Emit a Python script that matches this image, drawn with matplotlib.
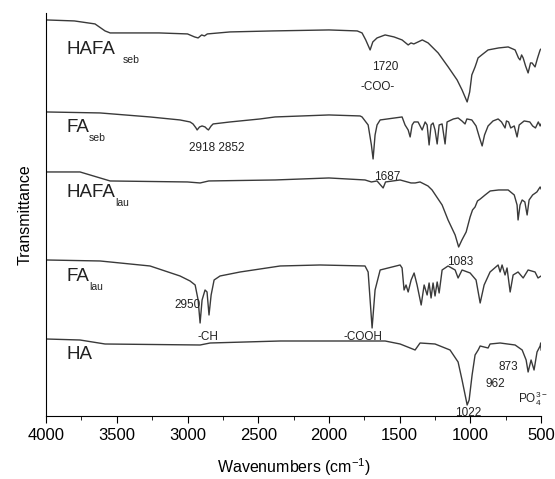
import numpy as np
import matplotlib.pyplot as plt
from matplotlib.ticker import MultipleLocator

plt.rcParams['font.family'] = ['Liberation Sans', 'DejaVu Sans']
plt.rcParams['mathtext.fontset'] = 'custom'
plt.rcParams['mathtext.rm'] = 'Liberation Sans'
plt.rcParams['mathtext.it'] = 'Liberation Sans'

# spectra: wavenumber (cm-1) and stacked transmittance (offset, a.u.)
hafa_seb_w = [4000, 3800, 3654, 3583, 3547, 3200, 3000, 2950, 2925, 2900, 2880, 2860, 2700, 2400, 2000, 1800,
              1766, 1740, 1709, 1690, 1660, 1603, 1540, 1483, 1440, 1420, 1400, 1370, 1340, 1299, 1228, 1157,
              1094, 1059, 1023, 1005, 990, 967, 955, 946, 920, 875, 800, 733, 684, 660, 649, 638, 627, 610,
              592, 575, 564, 543, 525, 507, 500]
hafa_seb_t = [396, 395, 392, 385, 383, 383, 382, 379, 378, 381, 380, 382, 384, 385, 386, 385,
              383, 376, 366, 374, 378, 381, 379, 376, 371, 373, 372, 374, 376, 373, 363, 349,
              336, 326, 314, 324, 341, 349, 354, 358, 361, 366, 368, 369, 366, 358, 356, 361, 358, 350,
              343, 353, 353, 349, 358, 366, 367]

fa_seb_w = [4000, 3618, 3265, 3053, 2982, 2961, 2940, 2932, 2915, 2897, 2876, 2862, 2852, 2833, 2819, 2699,
            2487, 2381, 2000, 1780, 1766, 1723, 1700, 1688, 1674, 1660, 1638, 1483, 1462, 1440, 1426, 1412,
            1398, 1370, 1341, 1320, 1306, 1292, 1278, 1264, 1250, 1235, 1221, 1200, 1179, 1165, 1120, 1087,
            1060, 1038, 1025, 990, 960, 935, 917, 900, 875, 840, 804, 780, 755, 745, 730, 715, 690, 670,
            655, 620, 580, 560, 540, 520, 507, 500]
fa_seb_t = [304, 303, 299, 296, 294, 292, 288, 286, 289, 290, 289, 287, 286, 290, 292, 294,
            297, 299, 301, 300, 299, 291, 271, 257, 281, 291, 296, 299, 291, 286, 279, 291,
            294, 294, 286, 294, 291, 271, 291, 293, 286, 272, 291, 292, 272, 294, 297, 298,
            295, 292, 297, 296, 290, 278, 270, 281, 290, 295, 297, 294, 288, 295, 294, 288, 290, 279,
            291, 295, 294, 290, 288, 294, 290, 292]

hafa_lau_w = [4000, 3760, 3618, 3547, 3000, 2911, 2850, 2381, 2000, 1745, 1700, 1660, 1617, 1600, 1497, 1420,
              1391, 1356, 1300, 1271, 1200, 1158, 1108, 1083, 1060, 1030, 1002, 985, 967, 950, 930, 896,
              860, 800, 733, 690, 670, 663, 649, 634, 615, 599, 585, 560, 530, 507, 500]
hafa_lau_t = [244, 244, 238, 235, 234, 233, 235, 236, 238, 236, 234, 235, 228, 234, 236, 233,
              233, 234, 230, 226, 211, 196, 181, 169, 176, 184, 199, 206, 209, 215, 217, 221,
              225, 226, 226, 221, 211, 196, 211, 216, 214, 201, 216, 221, 224, 229, 227]

fa_lau_w = [4000, 3618, 3265, 3053, 2982, 2946, 2925, 2911, 2897, 2876, 2862, 2848, 2833, 2812, 2770, 2628,
            2345, 2063, 1745, 1723, 1695, 1674, 1638, 1497, 1483, 1469, 1455, 1440, 1419, 1398, 1377, 1348,
            1327, 1306, 1292, 1278, 1264, 1250, 1235, 1221, 1200, 1158, 1108, 1087, 1059, 1002, 960, 931,
            903, 861, 804, 790, 776, 755, 741, 719, 698, 663, 627, 592, 543, 522, 500]
fa_lau_t = [156, 155, 150, 140, 135, 131, 116, 93, 116, 126, 124, 101, 121, 136, 140, 144,
            150, 151, 150, 144, 88, 126, 146, 151, 148, 126, 131, 124, 136, 143, 131, 111,
            131, 121, 133, 118, 133, 120, 134, 123, 146, 150, 146, 138, 146, 143, 136, 113,
            131, 144, 151, 144, 151, 141, 148, 124, 141, 144, 138, 146, 144, 138, 140]

ha_w = [4000, 3760, 3583, 2911, 2840, 2345, 1603, 1497, 1426, 1391, 1356, 1250, 1144, 1087, 1059, 1030,
        1023, 1009, 988, 967, 945, 931, 875, 861, 790, 684, 634, 606, 592, 571, 550, 529, 507, 503, 500]
ha_t = [77, 76, 72, 71, 73, 75, 75, 72, 68, 66, 73, 72, 66, 54, 36, 16,
        11, 16, 41, 61, 66, 70, 68, 72, 73, 71, 66, 56, 44, 56, 46, 64, 70, 73, 66]

series = [(hafa_seb_w, hafa_seb_t), (fa_seb_w, fa_seb_t), (hafa_lau_w, hafa_lau_t),
          (fa_lau_w, fa_lau_t), (ha_w, ha_t)]

names = ['HAFA', 'FA', 'HAFA', 'FA', 'HA']
subs = ['seb', 'seb', 'lau', 'lau', '']
sub_gap = [6, 0, 0, 0, 0]
name_y = [366, 288, 223, 139, 61]

peak_labels = ['2918 2852', '1720', '-COO-', '1687', '1083', '2950', '-CH', '-COOH',
               '873', '962', '1022', r'PO$_4^{3-}$']
peak_x = [2791, 1603, 1653, 1589, 1073, 3003, 2855, 1759, 733, 825, 1016, 557]
peak_y = [268, 349, 329, 239, 154, 111, 79, 79, 49, 32, 3, 17]

fig = plt.figure(figsize=(5.55, 4.79), dpi=100)
ax = fig.add_axes([0.083, 0.1315, 0.892, 0.8415])

for w, t in series:
    ax.plot(w, t, color='#3a3a3a', lw=1.0)

for n, s, g, y in zip(names, subs, sub_gap, name_y):
    txt = ax.text(3859, y, n, fontsize=13.5, va='center', ha='left', color='#222222')
    if s:
        ax.annotate(s, xy=(1, 0), xycoords=txt, xytext=(g, -1), textcoords='offset points',
                    fontsize=7.5, ha='left', va='center', color='#222222')

for s, x, y in zip(peak_labels, peak_x, peak_y):
    ax.text(x, y, s, fontsize=8.5, ha='center', va='center', color='#222222')

ax.set_xlim(4000, 500)
ax.set_ylim(0, 403)
ax.xaxis.set_major_locator(MultipleLocator(500))
ax.xaxis.set_minor_locator(MultipleLocator(250))
ax.tick_params(axis='x', which='major', direction='out', length=5, labelsize=12)
ax.tick_params(axis='x', which='minor', direction='out', length=3)
ax.set_yticks([])
ax.spines['top'].set_visible(False)
ax.spines['right'].set_visible(False)
ax.set_xlabel('Wavenumbers (cm$^{-1}$)', fontsize=11.5, labelpad=10)
ax.set_ylabel('Transmittance', fontsize=11.5, labelpad=10)

fig.savefig('out.png', dpi=100)
